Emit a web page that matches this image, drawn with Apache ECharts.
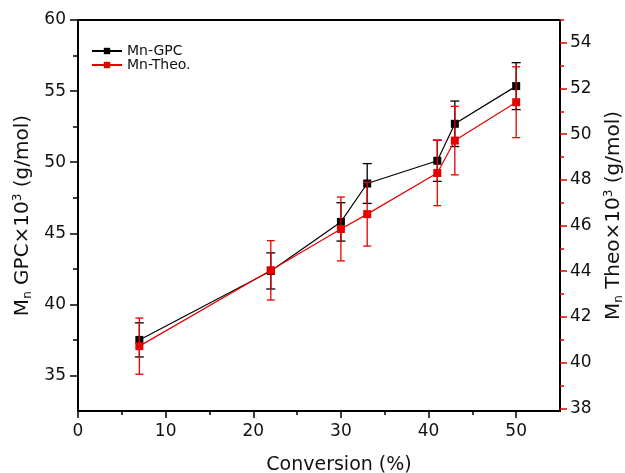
<!DOCTYPE html>
<html>
<head>
<meta charset="utf-8">
<script src="https://cdn.jsdelivr.net/npm/echarts@6/dist/echarts.min.js"></script>
<style>html,body{margin:0;padding:0;background:#fff}#c{width:625px;height:473px}</style>
</head>
<body>
<div id="c"></div>
<script>
const conversion = [7, 22, 30, 33, 41, 43, 50];
const mnGPC = [37.5, 42.35, 45.8, 48.5, 50.1, 52.7, 55.35];
const gpcErr = [1.2, 1.27, 1.35, 1.4, 1.45, 1.6, 1.65];
const mnTheo = [40.72, 44.04, 45.85, 46.5, 48.3, 49.72, 51.4];
const theoErr = [1.23, 1.3, 1.4, 1.4, 1.43, 1.5, 1.55];

const xLabels = [0, 10, 20, 30, 40, 50];
const xMinor = [5, 15, 25, 35, 45];
const leftLabels = [35, 40, 45, 50, 55, 60];
const leftMinor = [37.5, 42.5, 47.5, 52.5, 57.5];
const rightLabels = [38, 40, 42, 44, 46, 48, 50, 52, 54];
const rightMinor = [39, 41, 43, 45, 47, 49, 51, 53, 55];

const BLACK = '#000000';
const RED = '#e60000';
const FONT = 'DejaVu Sans';

const chart = echarts.init(document.getElementById('c'), null, {renderer: 'canvas'});

function errItem(color, cap) {
  return function (params, api) {
    const x = api.value(0), y = api.value(1), e = api.value(2);
    const t = api.coord([x, y + e]);
    const b = api.coord([x, y - e]);
    const st = {stroke: color, lineWidth: 1.3};
    return {
      type: 'group',
      children: [
        {type: 'line', shape: {x1: t[0], y1: t[1], x2: b[0], y2: b[1]}, style: st},
        {type: 'line', shape: {x1: t[0] - cap, y1: t[1], x2: t[0] + cap, y2: t[1]}, style: st},
        {type: 'line', shape: {x1: b[0] - cap, y1: b[1], x2: b[0] + cap, y2: b[1]}, style: st}
      ]
    };
  };
}

const nameRich = {
  a: {fontFamily: FONT, fontSize: 20, color: '#111', lineHeight: 22},
  sub: {fontFamily: FONT, fontSize: 12, color: '#111', lineHeight: 22, verticalAlign: 'bottom'},
  sup: {fontFamily: FONT, fontSize: 12, color: '#111', lineHeight: 22, verticalAlign: 'top'}
};

const axisLineStyle = {show: true, lineStyle: {color: BLACK, width: 2}};
const gridBox = {left: 78, right: 65, top: 20, bottom: 62, outerBoundsMode: 'none', containLabel: false};

chart.setOption({
  animation: false,
  backgroundColor: '#fff',
  grid: [
    Object.assign({show: true, borderColor: BLACK, borderWidth: 2, backgroundColor: 'transparent'}, gridBox),
    Object.assign({show: false}, gridBox)
  ],
  legend: {
    orient: 'vertical', left: 91, top: 44, itemGap: 0, itemWidth: 30, itemHeight: 8, padding: 0,
    textStyle: {fontFamily: FONT, fontSize: 14, lineHeight: 13, color: '#111'},
    data: ['Mn-GPC', 'Mn-Theo.']
  },
  xAxis: [
    {
      gridIndex: 0, type: 'value', min: 0, max: 55, position: 'bottom',
      axisLine: axisLineStyle,
      axisTick: {show: true, customValues: xLabels, length: 7, lineStyle: {color: BLACK, width: 1.5}},
      axisLabel: {customValues: xLabels, margin: 12, fontFamily: FONT, fontSize: 17, color: '#111'},
      splitLine: {show: false},
      name: 'Conversion (%)', nameLocation: 'middle', nameGap: 45,
      nameTextStyle: {fontFamily: FONT, fontSize: 19, color: '#111', padding: [0, 0, 0, 40]}
    },
    {
      gridIndex: 1, type: 'value', min: 0, max: 55, position: 'bottom',
      axisLine: {show: false},
      axisTick: {show: true, customValues: xMinor, length: 4, lineStyle: {color: BLACK, width: 1.5}},
      axisLabel: {show: false}, splitLine: {show: false}
    }
  ],
  yAxis: [
    {
      gridIndex: 0, type: 'value', min: 32.5, max: 60, position: 'left',
      axisLine: axisLineStyle,
      axisTick: {show: true, customValues: leftLabels, length: 8, lineStyle: {color: BLACK, width: 1.5}},
      axisLabel: {customValues: leftLabels, margin: 12, fontFamily: FONT, fontSize: 17, color: '#111'},
      splitLine: {show: false},
      name: '{a|M}{sub|n}{a| GPC×10}{sup|3}{a| (g/mol)}', nameLocation: 'middle', nameGap: 44,
      nameTextStyle: {rich: nameRich}
    },
    {
      gridIndex: 0, type: 'value', min: 37.88, max: 55, position: 'right',
      axisLine: axisLineStyle,
      axisTick: {show: true, customValues: rightLabels, length: 7, lineStyle: {color: RED, width: 1.5}},
      axisLabel: {customValues: rightLabels, margin: 10, fontFamily: FONT, fontSize: 17, color: '#111'},
      splitLine: {show: false},
      name: '{a|M}{sub|n}{a| Theo×10}{sup|3}{a| (g/mol)}', nameLocation: 'middle', nameGap: 43,
      nameTextStyle: {rich: nameRich}
    },
    {
      gridIndex: 1, type: 'value', min: 32.5, max: 60, position: 'left',
      axisLine: {show: false},
      axisTick: {show: true, customValues: leftMinor, length: 5, lineStyle: {color: BLACK, width: 1.5}},
      axisLabel: {show: false}, splitLine: {show: false}
    },
    {
      gridIndex: 1, type: 'value', min: 37.88, max: 55, position: 'right',
      axisLine: {show: false},
      axisTick: {show: true, customValues: rightMinor, length: 4, lineStyle: {color: RED, width: 1.5}},
      axisLabel: {show: false}, splitLine: {show: false}
    }
  ],
  series: [
    {
      name: 'Mn-GPC', type: 'line', xAxisIndex: 0, yAxisIndex: 0,
      data: conversion.map((c, i) => [c, mnGPC[i]]),
      symbol: 'rect', symbolSize: 8, color: BLACK,
      lineStyle: {color: BLACK, width: 1.2}, itemStyle: {color: BLACK},
      z: 3
    },
    {
      name: 'gpc-err', type: 'custom', xAxisIndex: 0, yAxisIndex: 0,
      data: conversion.map((c, i) => [c, mnGPC[i], gpcErr[i]]),
      encode: {x: 0, y: 1},
      renderItem: errItem(BLACK, 4.5), z: 3
    },
    {
      name: 'Mn-Theo.', type: 'line', xAxisIndex: 0, yAxisIndex: 1,
      data: conversion.map((c, i) => [c, mnTheo[i]]),
      symbol: 'rect', symbolSize: 8, color: RED,
      lineStyle: {color: RED, width: 1.2}, itemStyle: {color: RED},
      z: 4
    },
    {
      name: 'theo-err', type: 'custom', xAxisIndex: 0, yAxisIndex: 1,
      data: conversion.map((c, i) => [c, mnTheo[i], theoErr[i]]),
      encode: {x: 0, y: 1},
      renderItem: errItem(RED, 4), z: 4
    }
  ]
});
</script>
</body>
</html>
